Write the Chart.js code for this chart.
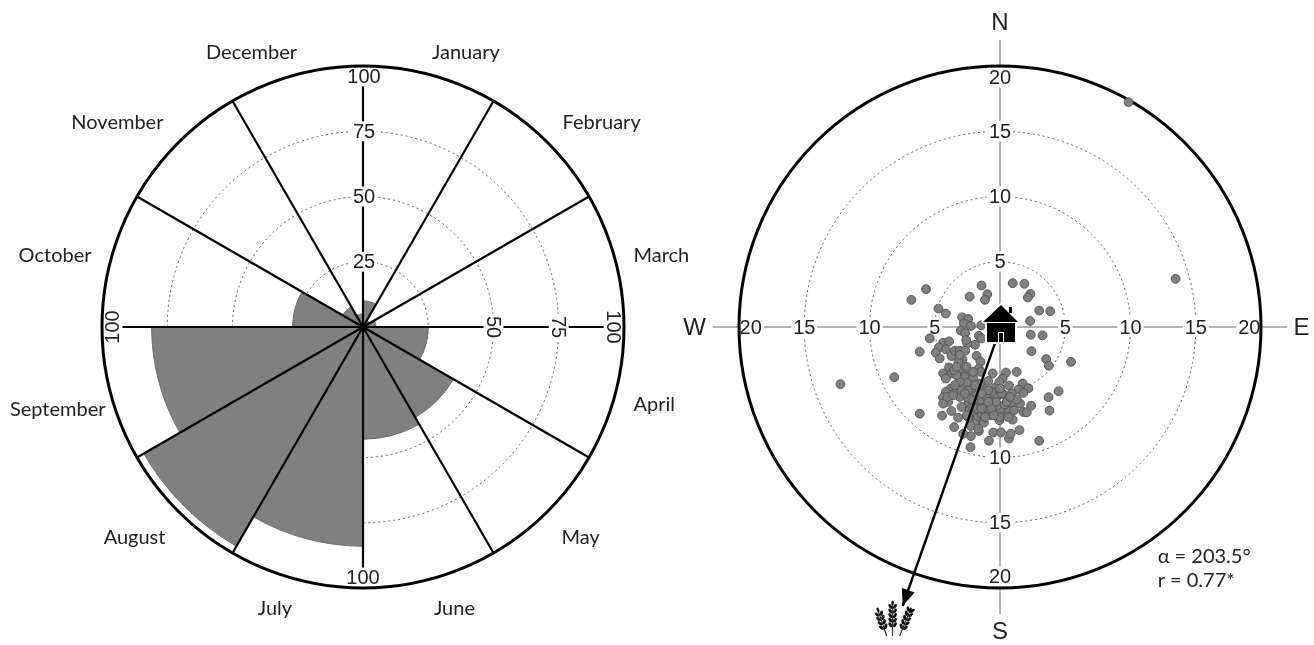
<!DOCTYPE html>
<html>
<head>
<meta charset="utf-8">
<style>
  html, body { margin: 0; background: #fff; overflow: hidden; }
  canvas { position: absolute; top: 0; }
  #monthChart { left: 0; }
  #pointChart { left: 657px; }
</style>
<script src="https://cdn.jsdelivr.net/npm/chart.js@4"></script>
</head>
<body>
<canvas id="monthChart" width="760" height="645"></canvas>
<canvas id="pointChart" width="657" height="645"></canvas>
<script>
// left panel, share per month
const months = ["January", "February", "March", "April", "May", "June", "July", "August", "September", "October", "November", "December"];
const monthValues = [10, 3, 5, 25, 40, 43, 84, 97, 81, 27, 9, 5];
const monthTicks = [25, 50, 75, 100];
// hand fix for where each month name sits
const monthNudgeX = [-3, 3, 2, 2, 2, -1, 1, -1, 11, -3, -3, 6];
const monthNudgeY = [4, -1, 3, 3, 7, 3, 3, 7, 8, 3, -1, 4];

// right panel, distance east / north of the house
const distTicks = [5, 10, 15, 20];
const pointEast = [
  -1.41, 0.97, 1.87, -5.67, -6.79, -2.33, -0.97, -1.15, 2.33, 2.13, -4.72, -4.15, 3.00, 3.85, 2.31, 2.36, 3.26, 2.41, 3.54, 3.74, 5.44,
  -6.15, -5.38, -8.10, -6.15, 4.49, 3.72, 3.79, 3.00, -2.26, -0.85, 0.69, 0.82, 1.49, -0.51, 0.08, 1.28, 0.46, -4.44, -3.51, 2.38, 1.79, 2.05,
  9.85, 13.46, -12.23,
  -2.90, -2.44, -2.77, -2.23, -3.00, -2.67, -1.44, -1.62, -1.41, -1.92, -2.51, -2.59, -4.36, -3.90, -4.67, -4.15, -4.92, -4.62, -3.72, -3.46, -3.08, -2.67,
  -2.87, -3.18, -1.79, -1.49, -1.62, -1.49, -4.36, -3.90, -3.72, -4.15, -2.95, -2.51, -3.13, -2.67, -2.05, -2.51, -3.08, -2.18, -3.79, -4.15, -3.38, -3.08,
  -4.36, -3.97, -4.36, -3.72, -2.44, -2.62, -2.95, -2.31, -1.92, -1.28, -1.49, -0.90, -0.51, -0.56, 0.21, -0.90, -0.38, -0.05, 0.69, 1.74, 2.18, 1.41, 1.79,
  0.26, -0.26, -1.28, -1.54, -0.64, -2.05, -1.67, -1.41, -2.44, -3.21, -1.92, -1.23, -2.23, -1.62, -2.82, -2.23, -0.05, 0.97, 0.26, 0.64, 0, -0.26, 0.38,
  0.90, 1.54, 1.08, -0.31, -0.64, 0.13, 0.51, -1.79, -2.10, -2.56, -1.67, 0,
  0.90, -0.64, -1.03, -1.79, -2.05, -0.90, -1.41, -0.46, 0.64, -1.15, -3.33, -3.54, -3.33, -4.05, -3.59, -2.95, -3.46, -1.92, -2.44, -2.69,
  -3.08, -2.56, -2.05, 1.28, 0.77, 0, -0.90, -1.41
];
const pointNorth = [
  3.18, 3.36, 3.31, 2.90, 2.08, 2.33, 2.51, 2.08, 2.54, 2.26, 1.41, 1.03, 1.26, 1.21, 0.46, -0.59, -0.64, -1.85, -2.46, -2.97, -2.67,
  -1.90, -0.87, -3.85, -6.64, -4.92, -5.38, -6.41, -8.72, -9.21, -8.72, -8.54, -8.18, -7.90, -8.08, -8.08, -3.44, -3.49, -6.79, -7.67, -6.03, -6.51, -6.54,
  17.23, 3.69, -4.38,
  0.74, 0.62, 0.28, 0.08, -0.28, -0.46, 0.13, -0.67, -0.87, -1.36, -1.26, -1.00, -1.21, -1.10, -1.56, -1.72, -1.97, -2.41, -2.23, -1.82, -1.82, -1.82,
  -2.49, -2.67, -2.21, -2.67, -3.18, -3.44, -3.56, -3.10, -3.56, -3.95, -3.31, -3.44, -3.82, -3.82, -3.87, -4.28, -4.21, -4.85, -4.72, -4.97, -4.97, -5.36,
  -5.41, -5.74, -5.87, -6.44, -5.49, -6.05, -6.13, -6.33, -5.87, -6.00, -5.56, -6.44, -5.23, -3.56, -3.95, -4.13, -4.64, -4.21, -4.49, -4.33, -4.69, -4.79, -5.05,
  -5.15, -5.36, -4.72, -4.33, -6.77, -6.77, -6.90, -6.69, -6.90, -6.95, -7.41, -7.33, -7.59, -7.97, -8.18, -8.36, -7.15, -7.10, -6.64, -6.38, -6.38, -6.05, -5.92,
  -5.82, -5.87, -6.38, -5.74, -6.26, -5.10, -5.74, -6.26, -6.13, -6.77, -7.79, -6.90,
  -5.10, -4.97, -5.36, -5.23, -5.62, -5.74, -6.26, -6.77, -6.90, -6.90, -3.69, -3.31, -3.05, -5.36, -5.23, -4.85, -4.46, -4.46, -4.85, -5.10,
  -2.15, -3.05, -3.44, -5.56, -5.36, -4.72, -4.85, -5.10
];
const meanEast = [-0.38, -7.46];
const meanNorth = [-1.23, -21.38];
const statLines = ["α = 203.5°", "r = 0.77*"];

const tickFont = '20px "Liberation Sans"';
const textFont = '20px Lato';
const compassFont = '24px "Liberation Sans"';

function tickText(ctx, text, x, y, rotation) {
  ctx.save();
  ctx.translate(x, y);
  ctx.rotate(rotation || 0);
  ctx.font = tickFont;
  ctx.textAlign = 'center';
  ctx.textBaseline = 'middle';
  const w = ctx.measureText(text).width + 4;
  ctx.fillStyle = '#fff';
  ctx.fillRect(-w / 2, -10, w, 20);
  ctx.fillStyle = '#222';
  ctx.fillText(text, 0, 1);
  ctx.restore();
}

const monthOverlay = {
  id: 'monthOverlay',
  afterDatasetsDraw(chart) {
    const ctx = chart.ctx;
    const r = chart.scales.r;
    const top = monthTicks[monthTicks.length - 1];
    ctx.save();
    // spokes go over the grey wedges, the rings stay under them
    ctx.strokeStyle = '#000';
    ctx.lineWidth = 2.2;
    months.forEach((m, i) => {
      const end = r.getPointPosition(i, r.getDistanceFromCenterForValue(i % 3 === 0 ? 96 : top));
      ctx.beginPath();
      ctx.moveTo(r.xCenter, r.yCenter);
      ctx.lineTo(end.x, end.y);
      ctx.stroke();
    });

    const place = (v, idx) => r.getPointPosition(idx, r.getDistanceFromCenterForValue(v === top ? 96 : v));
    monthTicks.forEach(v => {
      const p = place(v, 0);
      tickText(ctx, String(v), p.x + 1, p.y);
    });
    monthTicks.slice(1).forEach(v => {
      const p = place(v, 3);
      tickText(ctx, String(v), p.x, p.y, Math.PI / 2);
    });
    let p = place(top, 6);
    tickText(ctx, String(top), p.x, p.y);
    p = place(top, 9);
    tickText(ctx, String(top), p.x, p.y, -Math.PI / 2);

    ctx.strokeStyle = '#000';
    ctx.lineWidth = 3;
    ctx.beginPath();
    ctx.arc(r.xCenter, r.yCenter, r.getDistanceFromCenterForValue(top), 0, Math.PI * 2);
    ctx.stroke();

    ctx.font = textFont;
    ctx.fillStyle = '#222';
    ctx.textBaseline = 'middle';
    months.forEach((m, i) => {
      const edge = r.getPointPosition(i, r.getDistanceFromCenterForValue(106.5), Math.PI / 12);
      const mid = r.getPointPosition(i, r.getDistanceFromCenterForValue(110.5), Math.PI / 12);
      ctx.textAlign = i < 6 ? 'left' : 'right';
      ctx.fillText(m, edge.x + monthNudgeX[i], mid.y + monthNudgeY[i]);
    });
    ctx.restore();
  }
};

new Chart(document.getElementById('monthChart'), {
  type: 'polarArea',
  data: {
    labels: months,
    datasets: [{
      data: monthValues,
      backgroundColor: '#808080',
      borderColor: '#6e6e6e',
      borderWidth: 1
    }]
  },
  options: {
    responsive: false,
    animation: false,
    events: [],
    layout: { padding: { left: 102, right: 136, top: 66, bottom: 57 } },
    plugins: { legend: { display: false }, tooltip: { enabled: false } },
    scales: {
      r: {
        min: 0,
        max: 100,
        ticks: { display: false, stepSize: 25 },
        pointLabels: { display: false },
        angleLines: { display: false },
        grid: { color: '#555', lineWidth: 1, circular: true },
        border: { dash: [2, 3] }
      }
    }
  },
  plugins: [monthOverlay]
});

function drawHouse(ctx, cx, cy) {
  ctx.save();
  ctx.translate(cx, cy);
  ctx.fillStyle = '#fff';
  ctx.beginPath();
  ctx.moveTo(1, -24);
  ctx.lineTo(20, -5);
  ctx.lineTo(17, -3);
  ctx.lineTo(17, 17);
  ctx.lineTo(-15, 17);
  ctx.lineTo(-15, -3);
  ctx.lineTo(-19, -5);
  ctx.closePath();
  ctx.fill();
  ctx.fillStyle = '#000';
  ctx.beginPath();
  ctx.moveTo(1, -22);
  ctx.lineTo(18, -5);
  ctx.lineTo(-17, -5);
  ctx.closePath();
  ctx.fill();
  ctx.fillRect(9, -20, 3, 6);
  ctx.fillRect(-13, -4, 28, 19);
  ctx.fillStyle = '#fff';
  ctx.fillRect(-2, 5, 6, 10);
  ctx.fillStyle = '#000';
  ctx.fillRect(-1, 6, 4, 9);
  ctx.restore();
}

function drawEar(ctx, x0, y0, x1, y1) {
  const a = Math.atan2(y1 - y0, x1 - x0);
  const len = Math.hypot(x1 - x0, y1 - y0);
  ctx.save();
  ctx.translate(x0, y0);
  ctx.rotate(a);
  ctx.strokeStyle = '#111';
  ctx.fillStyle = '#111';
  ctx.lineWidth = 1;
  ctx.beginPath();
  ctx.moveTo(0, 0);
  ctx.lineTo(len, 0);
  ctx.stroke();
  for (let d = len * 0.3; d < len - 2; d += 4.6) {
    [-1, 1].forEach(s => {
      ctx.beginPath();
      ctx.ellipse(d + 1, s * 2.3, 2.8, 1.5, s * 0.6, 0, Math.PI * 2);
      ctx.fill();
    });
  }
  ctx.beginPath();
  ctx.ellipse(len - 1, 0, 2.6, 1.3, 0, 0, Math.PI * 2);
  ctx.fill();
  ctx.restore();
}

const pointUnder = {
  id: 'pointUnder',
  beforeDatasetsDraw(chart) {
    const ctx = chart.ctx;
    const x = chart.scales.x;
    const y = chart.scales.y;
    const cx = x.getPixelForValue(0);
    const cy = y.getPixelForValue(0);
    const top = distTicks[distTicks.length - 1];
    ctx.save();
    ctx.strokeStyle = '#666';
    ctx.lineWidth = 1;
    ctx.beginPath();
    ctx.moveTo(x.getPixelForValue(-22), cy);
    ctx.lineTo(x.getPixelForValue(22), cy);
    ctx.moveTo(cx, y.getPixelForValue(22));
    ctx.lineTo(cx, y.getPixelForValue(-22));
    ctx.stroke();
    ctx.setLineDash([2, 3]);
    ctx.strokeStyle = '#555';
    distTicks.slice(0, -1).forEach(v => {
      ctx.beginPath();
      ctx.arc(cx, cy, x.getPixelForValue(v) - cx, 0, Math.PI * 2);
      ctx.stroke();
    });
    ctx.setLineDash([]);
    distTicks.forEach(v => {
      const at = v === top ? 19.1 : v;
      tickText(ctx, String(v), x.getPixelForValue(at), cy);
      tickText(ctx, String(v), x.getPixelForValue(-at), cy);
      tickText(ctx, String(v), cx, y.getPixelForValue(at));
      tickText(ctx, String(v), cx, y.getPixelForValue(-at));
    });
    ctx.strokeStyle = '#000';
    ctx.lineWidth = 3;
    ctx.beginPath();
    ctx.arc(cx, cy, x.getPixelForValue(top) - cx, 0, Math.PI * 2);
    ctx.stroke();
    ctx.font = compassFont;
    ctx.fillStyle = '#222';
    ctx.textAlign = 'center';
    ctx.textBaseline = 'middle';
    ctx.fillText('N', cx, y.getPixelForValue(23.3));
    ctx.fillText('S', cx, y.getPixelForValue(-23.4));
    ctx.fillText('W', x.getPixelForValue(-23.4), cy + 1);
    ctx.fillText('E', x.getPixelForValue(23.1), cy + 1);
    ctx.restore();
  },
  afterDatasetsDraw(chart) {
    const ctx = chart.ctx;
    const x = chart.scales.x;
    const y = chart.scales.y;
    const sx = x.getPixelForValue(meanEast[0]);
    const sy = y.getPixelForValue(meanNorth[0]);
    const tx = x.getPixelForValue(meanEast[1]);
    const ty = y.getPixelForValue(meanNorth[1]);
    const a = Math.atan2(ty - sy, tx - sx);
    ctx.save();
    ctx.fillStyle = '#000';
    ctx.beginPath();
    ctx.moveTo(tx, ty);
    ctx.lineTo(tx - 18 * Math.cos(a - 0.38), ty - 18 * Math.sin(a - 0.38));
    ctx.lineTo(tx - 18 * Math.cos(a + 0.38), ty - 18 * Math.sin(a + 0.38));
    ctx.closePath();
    ctx.fill();
    drawHouse(ctx, x.getPixelForValue(0), y.getPixelForValue(0));
    drawEar(ctx, tx - 10, ty + 30, tx - 10, ty - 4);
    drawEar(ctx, tx - 16, ty + 30, tx - 25, ty + 3);
    drawEar(ctx, tx - 3, ty + 30, tx + 8, ty + 3);
    ctx.font = textFont;
    ctx.fillStyle = '#222';
    ctx.textAlign = 'left';
    ctx.textBaseline = 'middle';
    statLines.forEach((t, i) => {
      ctx.fillText(t, x.getPixelForValue(12.08), y.getPixelForValue(-17.6 - i * 1.85));
    });
    ctx.restore();
  }
};

new Chart(document.getElementById('pointChart'), {
  type: 'scatter',
  data: {
    datasets: [{
      data: meanEast.map((v, i) => ({ x: v, y: meanNorth[i] })),
      showLine: true,
      borderColor: '#000',
      borderWidth: 2.4,
      pointRadius: 0,
      clip: false
    }, {
      data: pointEast.map((v, i) => ({ x: v, y: pointNorth[i] })),
      pointRadius: 4.4,
      backgroundColor: '#808080',
      borderColor: '#555',
      borderWidth: 1
    }]
  },
  options: {
    responsive: false,
    animation: false,
    events: [],
    layout: { padding: { left: 82, right: 53, top: 66, bottom: 57 } },
    plugins: { legend: { display: false }, tooltip: { enabled: false } },
    scales: {
      x: { type: 'linear', min: -20, max: 20, display: false },
      y: { type: 'linear', min: -20, max: 20, display: false }
    }
  },
  plugins: [pointUnder]
});
</script>
</body>
</html>
